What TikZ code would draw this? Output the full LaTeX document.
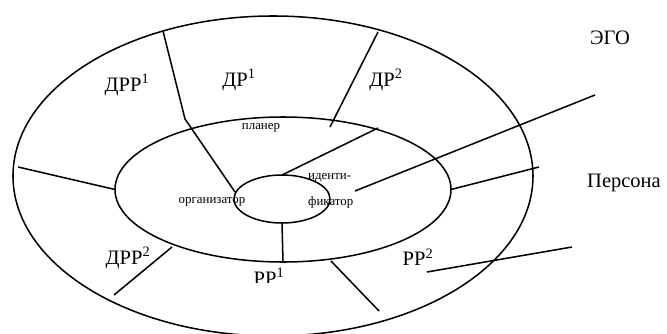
\documentclass[tikz,border=0pt]{standalone}
\usepackage{fontspec}
\setmainfont{Liberation Serif}
\usetikzlibrary{shapes}
\tikzstyle{ring} = [ellipse, draw, line width=1.3pt, inner sep=0pt, outer sep=0pt]
\tikzstyle{zone} = [inner sep=0pt, font=\fontsize{17.5}{20}\selectfont]
\tikzstyle{role} = [inner sep=0pt, font=\fontsize{11}{13}\selectfont]
\tikzstyle{sep} = [line width=1.3pt]

\begin{document}
\begin{tikzpicture}[x=0.03cm, y=-0.03cm]
    \useasboundingbox (0,0) rectangle (667,334);
    % rings
    \node(outer)[ring, minimum width=15.6cm, minimum height=9.6cm] at (273,176){};
    \node(middle)[ring, minimum width=10.08cm, minimum height=4.35cm] at (283,189.5){};
    \node(inner)[ring, minimum width=2.88cm, minimum height=1.44cm] at (282,199){};
    % labels
    \node(ego)[zone] at (610,38){ЭГО};
    \node(persona)[zone] at (624,183){Персона};
    \node(drr1)[zone] at (127,85){ДРР\textsuperscript{1}};
    \node(dr1)[zone] at (239,80){ДР\textsuperscript{1}};
    \node(dr2)[zone] at (386,80){ДР\textsuperscript{2}};
    \node(drr2)[zone] at (128,258){ДРР\textsuperscript{2}};
    \node(rr2)[zone] at (418,257){РР\textsuperscript{2}};
    \begin{scope}
        \clip (240,262) rectangle (300,282);
        \node(rr1)[zone, anchor=base] at (269,285){РР\textsuperscript{1}};
    \end{scope}
    \node(plan)[role] at (261,128){планер};
    \node(org)[role] at (212,202){организатор};
    \node(ident1)[role, anchor=west] at (308,178){иденти-};
    \node(ident2)[role, anchor=west] at (308,202){фикатор};
    % separators
    \coordinate (drTop) at (163,31);
    \coordinate (drBend) at (185,119);
    \coordinate (orgTop) at (235,192);
    \coordinate (dr2Top) at (378,32);
    \coordinate (dr2Low) at (330,127);
    \coordinate (planEnd) at (378,128);
    \coordinate (identEnd) at (355,191);
    \coordinate (egoEnd) at (595,95);
    \coordinate (outerW) at (18,167);
    \coordinate (personaEnd) at (539,167);
    \coordinate (drr2Top) at (172,247);
    \coordinate (drr2Low) at (114,295);
    \coordinate (rr1Top) at (331,261);
    \coordinate (rr1Low) at (379,311);
    \coordinate (rr2Start) at (427,272);
    \coordinate (rr2End) at (572,247);
    \draw [sep] (drTop) -- (drBend) -- (orgTop);
    \draw [sep] (dr2Top) -- (dr2Low);
    \draw [sep] (inner.north) -- (planEnd);
    \draw [sep] (identEnd) -- (egoEnd);
    \draw [sep] (outerW) -- (middle.west);
    \draw [sep] (middle.east) -- (personaEnd);
    \draw [sep] (inner.south) -- (middle.south);
    \draw [sep] (drr2Top) -- (drr2Low);
    \draw [sep] (rr1Top) -- (rr1Low);
    \draw [sep] (rr2Start) -- (rr2End);
\end{tikzpicture}
\end{document}
